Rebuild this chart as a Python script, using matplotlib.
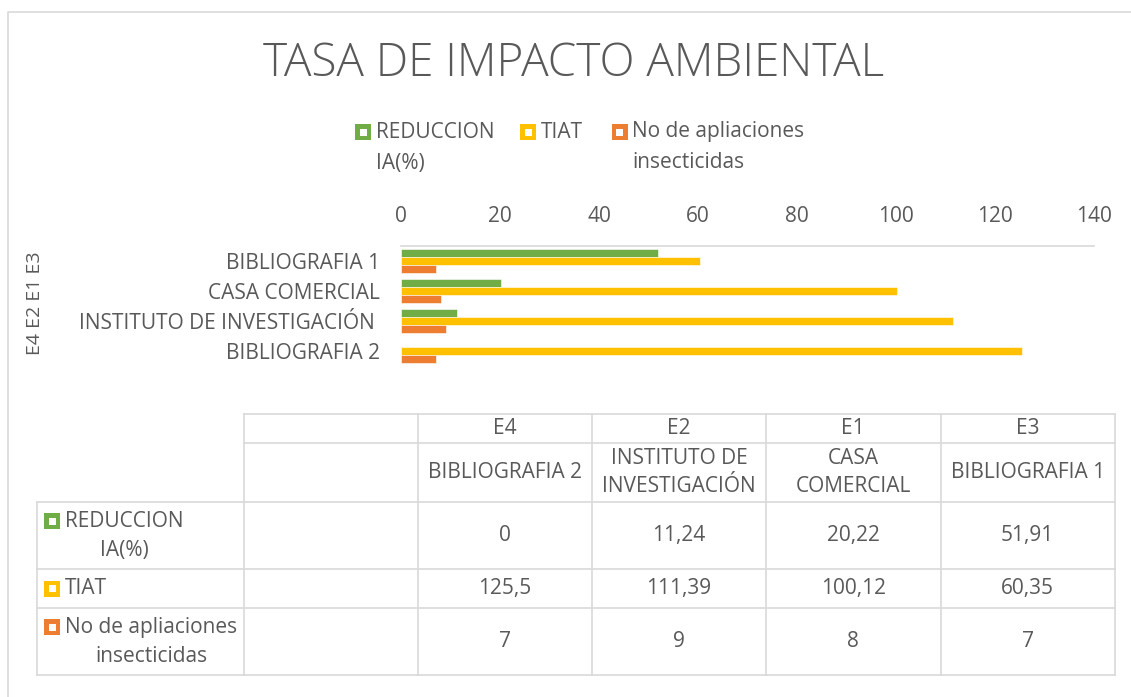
import matplotlib
matplotlib.use("Agg")
import matplotlib.pyplot as plt
from matplotlib.patches import Rectangle
import numpy as np

W, H = 1131, 697

# data, in the order the table lists it (E4 first)
categories = ["BIBLIOGRAFIA 2", "INSTITUTO DE INVESTIGACIÓN ", "CASA COMERCIAL", "BIBLIOGRAFIA 1"]
table_headers = ["BIBLIOGRAFIA 2", "INSTITUTO DE\nINVESTIGACIÓN", "CASA\nCOMERCIAL", "BIBLIOGRAFIA 1"]
codes = ["E4", "E2", "E1", "E3"]
reduccion = [0, 11.24, 20.22, 51.91]
tiat = [125.5, 111.39, 100.12, 60.35]
aplicaciones = [7, 9, 8, 7]

series_names = ["REDUCCION\nIA(%)", "TIAT", "No de apliaciones\ninsecticidas"]
series_values = [reduccion, tiat, aplicaciones]
colors = ["#70AD47", "#FFC000", "#ED7D31"]
x_ticks = [0, 20, 40, 60, 80, 100, 120, 140]

TEXT = "#595959"
LINE = "#D9D9D9"
FS = 15
plt.rcParams["font.family"] = ["Open Sans", "DejaVu Sans"]


def fmt(v):
    return f"{v:g}".replace(".", ",")


fig = plt.figure(figsize=(W / 100, H / 100), dpi=100)

# overlay axes in pixel coordinates for border, title, legend and table
ov = fig.add_axes([0, 0, 1, 1])
ov.set_xlim(0, W)
ov.set_ylim(H, 0)
ov.axis("off")


def key(x, y, color, s=16, inner=7):
    ov.add_patch(Rectangle((x - s / 2, y - s / 2), s, s, facecolor=color, edgecolor="none"))
    ov.add_patch(Rectangle((x - inner / 2, y - inner / 2), inner, inner, facecolor="white", edgecolor="none"))


# chart border (only top and left visible in the crop)
ov.plot([7.5, 7.5, W + 5], [H + 5, 11.5, 11.5], color=LINE, lw=1.2, clip_on=False)

ov.text(574, 64, "TASA DE IMPACTO AMBIENTAL", ha="center", va="center",
        fontsize=33, color=TEXT, fontweight="light")

# legend
leg_x = [363, 528, 619.5]
for name, color, x in zip(series_names, colors, leg_x):
    key(x, 132, color)
    for j, line in enumerate(name.split("\n")):
        ov.text(x + 13, 132 + 31 * j, line, ha="left", va="center", fontsize=FS, color=TEXT)

# bar chart
ax = fig.add_axes([401 / W, 1 - 366 / H, 693.3 / W, 120 / H])
ax.set_facecolor("none")
y = np.arange(len(categories))
h = 0.263
for i, (vals, color) in enumerate(zip(series_values, colors)):
    ax.barh(y + (1 - i) * h, vals, height=h, color=color, edgecolor="white", linewidth=0.4)
ax.set_xlim(0, 140)
ax.set_ylim(-0.5, 3.5)
ax.xaxis.tick_top()
ax.set_xticks(x_ticks)
ax.tick_params(axis="x", length=0, pad=14, labelsize=15, labelcolor=TEXT)
ax.set_yticks(y, categories)
ax.tick_params(axis="y", length=0, pad=15, labelsize=FS, labelcolor=TEXT)
for side in ["bottom", "left", "right"]:
    ax.spines[side].set_visible(False)
ax.spines["top"].set_color(LINE)
ax.spines["top"].set_linewidth(1.2)

ov.text(35, 303, " ".join(codes), rotation=90, ha="center", va="center", fontsize=14, color=TEXT)

# data table
cols = [37, 244, 418, 592, 766, 940.5, 1115]
rows = [414.3, 443, 502, 569.3, 608, 675.3]
for i, r in enumerate(rows):
    x0 = cols[1] if i < 2 else cols[0]
    ov.plot([x0, cols[-1]], [r, r], color=LINE, lw=1.2)
for i, c in enumerate(cols):
    y0 = rows[2] if i == 0 else rows[0]
    ov.plot([c, c], [y0, rows[-1]], color=LINE, lw=1.2)

for j in range(len(codes)):
    cx = (cols[j + 2] + cols[j + 3]) / 2
    ov.text(cx, (rows[0] + rows[1]) / 2, codes[j], ha="center", va="center", fontsize=FS, color=TEXT)
    ov.text(cx, (rows[1] + rows[2]) / 2, table_headers[j], ha="center", va="center",
            fontsize=FS, color=TEXT, linespacing=1.45)
    for k, vals in enumerate(series_values):
        cy = (rows[k + 2] + rows[k + 3]) / 2
        ov.text(cx, cy, fmt(vals[j]), ha="center", va="center", fontsize=FS, color=TEXT)

for k, (name, color) in enumerate(zip(series_names, colors)):
    cy = (rows[k + 2] + rows[k + 3]) / 2
    nlines = name.count("\n") + 1
    key(52, cy - 14.5 * (nlines - 1), color)
    ov.text(65, cy, name, ha="left", va="center", multialignment="center",
            fontsize=FS, color=TEXT, linespacing=1.5)

fig.savefig("out.png", dpi=100)
